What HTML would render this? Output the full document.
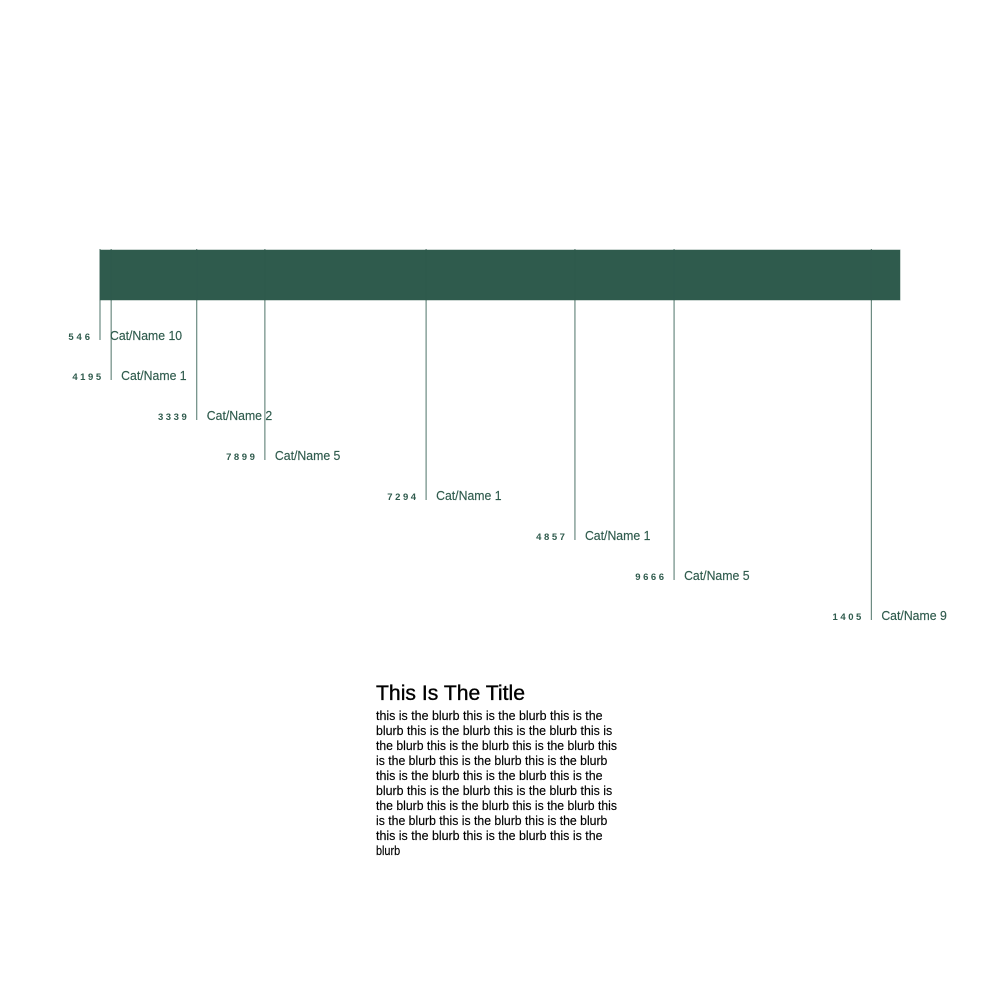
<!DOCTYPE html>
<html lang="en">
<head>
<meta charset="utf-8">
<title>This Is The Title</title>
<style>
html,body{margin:0;padding:0;background:#fff;width:1000px;height:1000px;overflow:hidden}
svg{display:block}
text{font-family:"Liberation Sans",sans-serif}
</style>
</head>
<body>
<svg id="chart" xmlns="http://www.w3.org/2000/svg" width="1000" height="1000" viewBox="0 0 1000 1000">
<rect x="0" y="0" width="1000" height="1000" fill="#ffffff"/>
<g id="marks"></g>
<g id="leaders"></g>
<g id="labels"></g>
<text x="376" y="700" font-size="21" fill="#000" stroke="#000" stroke-width="0.35" textLength="149" lengthAdjust="spacingAndGlyphs">This Is The Title</text>
<g id="blurb"></g>
</svg>
<script>
const categories = ["Cat/Name 10","Cat/Name 1","Cat/Name 2","Cat/Name 5","Cat/Name 1","Cat/Name 1","Cat/Name 5","Cat/Name 9"];
const values = [546,4195,3339,7899,7294,4857,9666,1405];
const blurbLines = [
"this is the blurb this is the blurb this is the",
"blurb this is the blurb this is the blurb this is",
"the blurb this is the blurb this is the blurb this",
"is the blurb this is the blurb this is the blurb",
"this is the blurb this is the blurb this is the",
"blurb this is the blurb this is the blurb this is",
"the blurb this is the blurb this is the blurb this",
"is the blurb this is the blurb this is the blurb",
"this is the blurb this is the blurb this is the",
"blurb"
];

const NS = "http://www.w3.org/2000/svg";
const total = values.reduce((a,b)=>a+b,0);
const xScale = v => 100 + v / total * 800;
const rowY = i => 340 + i * 40;
const color = "#2f5b4d";

const marks = document.getElementById("marks");
const leaders = document.getElementById("leaders");
const labels = document.getElementById("labels");
const blurb = document.getElementById("blurb");

function make(tag, attrs, text){
  const el = document.createElementNS(NS, tag);
  for (const k in attrs) el.setAttribute(k, attrs[k]);
  if (text !== undefined) el.textContent = text;
  return el;
}

let cumulative = 0;
values.forEach((v,i)=>{
  const x = xScale(cumulative);
  const w = xScale(cumulative + v) - x;
  const seg = make("rect",{x:x,y:250,width:w,height:50,fill:color,stroke:color,"stroke-width":1,"stroke-opacity":0.5});
  
  
  marks.appendChild(seg);
  cumulative += v;
});
const cover = make("rect",{x:xScale(0),y:250,width:xScale(total)-xScale(0),height:50,fill:color});


marks.appendChild(cover);

cumulative = 0;
values.forEach((v,i)=>{
  const x = xScale(cumulative);
  const y = rowY(i);
  const line = make("line",{x1:x,x2:x,y1:249,y2:y,stroke:color,"stroke-width":1,"stroke-opacity":0.85});
  
  
  leaders.appendChild(line);

  const valueStr = String(v);
  const valueW = valueStr.length * 7.2;
  const valueLabel = make("text",{x:x-10-valueW,y:y,"font-size":9.5,fill:color,
    textLength:valueW,lengthAdjust:"spacing","font-weight":"bold"},valueStr);
  
  
  labels.appendChild(valueLabel);

  const name = categories[i];
  const nameLabel = make("text",{x:x+10,y:y,"font-size":13,fill:color,stroke:color,"stroke-width":0.15,
    textLength:name.length*6.55,lengthAdjust:"spacingAndGlyphs"},name);
  
  
  labels.appendChild(nameLabel);

  cumulative += v;
});

blurbLines.forEach((t,i)=>{
  const line = make("text",{x:376,y:720+i*15,"font-size":12.5,fill:"#000",stroke:"#000","stroke-width":0.15,
    textLength:t.length*4.82,lengthAdjust:"spacingAndGlyphs"},t);
  
  
  blurb.appendChild(line);
});
</script>
</body>
</html>
